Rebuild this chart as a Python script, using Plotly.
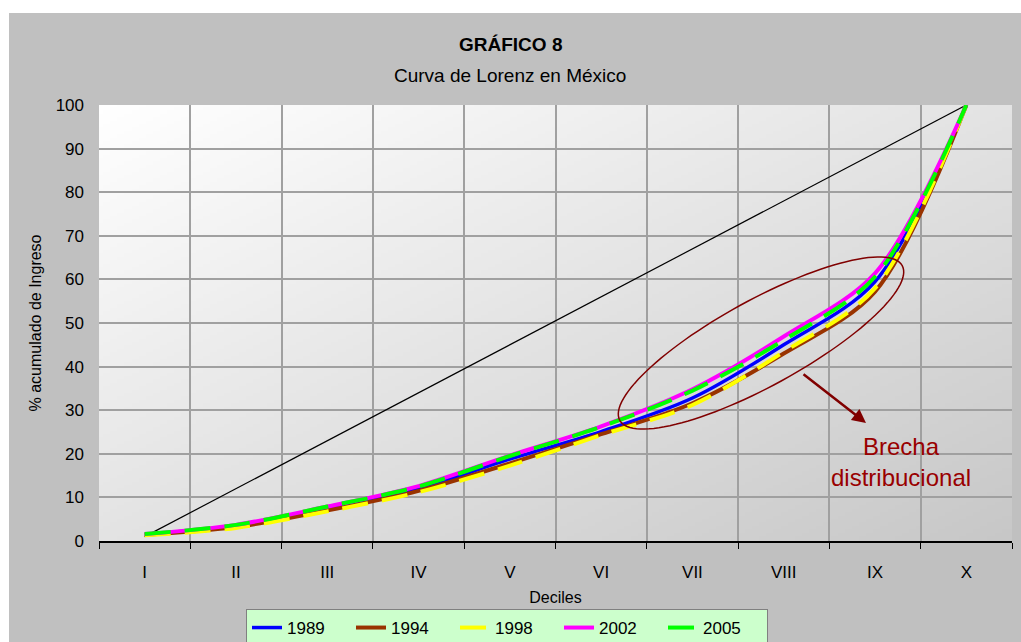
import base64, struct, zlib, math
import plotly.graph_objects as go

# ---------------- data ----------------
deciles = ["I", "II", "III", "IV", "V", "VI", "VII", "VIII", "IX", "X"]
equidad = [1, 12, 23, 34, 45, 56, 67, 78, 89, 100]
y1989 = [1.5, 3.5, 7.5, 12.0, 18.8, 25.1, 32.8, 45.0, 59.5, 100]
y1994 = [1.4, 3.2, 7.0, 11.5, 17.8, 24.5, 31.6, 43.0, 57.2, 100]
y1998 = [1.3, 3.0, 6.8, 11.2, 17.3, 24.3, 31.2, 43.4, 58.0, 100]
y2002 = [1.6, 3.7, 7.9, 12.6, 19.6, 26.3, 34.8, 46.9, 61.4, 100]
y2005 = [1.6, 3.7, 7.9, 12.5, 19.5, 26.2, 34.5, 46.1, 60.6, 100]
years = ["1989", "1994", "1998", "2002", "2005"]

# ---------------- geometry helpers (pixel -> paper) ----------------
W, H = 1021, 642
L, R, T, B = 99, 1012, 105, 541
def px(x):
    return (x - L) / (R - L)
def py(y):
    return (B - y) / (B - T)

# gradient background image for the plot area
def gradient_png(w, h):
    rows = []
    for j in range(h):
        row = bytearray([0])
        for i in range(w):
            t = (i / (w - 1) + j / (h - 1)) / 2
            row.append(int(round(255 - 56 * t)))
        rows.append(bytes(row))
    raw = b"".join(rows)
    def chunk(tag, data):
        c = tag + data
        return struct.pack(">I", len(data)) + c + struct.pack(">I", zlib.crc32(c) & 0xffffffff)
    png = b"\x89PNG\r\n\x1a\n"
    png += chunk(b"IHDR", struct.pack(">IIBBBBB", w, h, 8, 0, 0, 0, 0))
    png += chunk(b"IDAT", zlib.compress(raw, 9))
    png += chunk(b"IEND", b"")
    return "data:image/png;base64," + base64.b64encode(png).decode()

bg = gradient_png(128, 128)

fig = go.Figure()

fig.add_trace(go.Scatter(x=deciles, y=equidad, mode="lines",
                         line=dict(color="black", width=1.2), showlegend=False,
                         hoverinfo="skip"))

styles = {
    "1989": dict(color="#0000ff", width=3.5, dash="solid"),
    "1994": dict(color="#993300", width=4, dash="solid"),
    "1998": dict(color="#ffff00", width=4, dash="26px,14px"),
    "2002": dict(color="#ff00ff", width=4, dash="solid"),
    "2005": dict(color="#00ff00", width=4, dash="26px,14px"),
}
series = {"1989": y1989, "1994": y1994, "1998": y1998, "2002": y2002, "2005": y2005}
for yr in years:
    s = styles[yr]
    fig.add_trace(go.Scatter(x=deciles, y=series[yr], mode="lines", name=yr,
                             line=dict(color=s["color"], width=s["width"], dash=s["dash"],
                                       shape="spline", smoothing=0.9)))

# rotated ellipse (pixel geometry -> paper)
cx, cy, a, b, th = 761, 343, 161, 43, math.radians(28.7)
pts = []
for k in range(0, 121):
    t = 2 * math.pi * k / 120
    X = cx + a * math.cos(t) * math.cos(th) - b * math.sin(t) * math.sin(th)
    Y = cy - (a * math.cos(t) * math.sin(th) + b * math.sin(t) * math.cos(th))
    pts.append((px(X), py(Y)))
path = "M " + " L ".join(f"{x:.5f},{y:.5f}" for x, y in pts) + " Z"

shapes = [
    dict(type="rect", xref="paper", yref="paper", x0=px(0), x1=px(W), y0=py(0), y1=py(13),
         fillcolor="white", line=dict(width=0), layer="above"),
    dict(type="rect", xref="paper", yref="paper", x0=px(0), x1=px(9), y0=py(0), y1=py(H),
         fillcolor="white", line=dict(width=0), layer="above"),
    dict(type="path", xref="paper", yref="paper", path=path,
         line=dict(color="#800000", width=1.5)),
]

annotations = [
    dict(text="<b>GRÁFICO 8</b>", xref="paper", yref="paper", x=px(510), y=py(45),
         showarrow=False, font=dict(size=19, color="black"), xanchor="center", yanchor="middle"),
    dict(text="Curva de Lorenz en México", xref="paper", yref="paper", x=px(510), y=py(75),
         showarrow=False, font=dict(size=19, color="black"), xanchor="center", yanchor="middle"),
    dict(text="Brecha<br>distribucional", xref="paper", yref="paper", x=px(901), y=py(462),
         showarrow=False, font=dict(size=24, color="#990000"), xanchor="center", yanchor="middle"),
    dict(text="", xref="paper", yref="paper", x=px(866), y=py(423), ax=-64, ay=-50,
         showarrow=True, arrowhead=2, arrowsize=1.1, arrowwidth=2.5, arrowcolor="#800000"),
]

fig.update_layout(
    width=W, height=H,
    margin=dict(l=L, r=W - R, t=T, b=H - B, autoexpand=False),
    paper_bgcolor="#c0c0c0",
    plot_bgcolor="rgba(0,0,0,0)",
    font=dict(family="Liberation Sans, Arial, sans-serif", color="black"),
    showlegend=True,
    legend=dict(orientation="h", x=px(507), xanchor="center", y=py(609), yanchor="top",
                bgcolor="#ccffcc", bordercolor="#808080", borderwidth=1,
                font=dict(size=17), entrywidth=59, tracegroupgap=0, valign="middle"),
    images=[dict(source=bg, xref="paper", yref="paper", x=0, y=1, sizex=1, sizey=1,
                 sizing="stretch", layer="below")],
    shapes=shapes,
    annotations=annotations,
)

fig.update_xaxes(type="category", range=[-0.5, 9.5], tickson="boundaries", ticks="outside",
                 ticklen=6, tickcolor="black", tickwidth=1.2, showline=True, linecolor="black",
                 linewidth=1.5, showgrid=True, gridcolor="#a0a0a0", gridwidth=1.5,
                 tickfont=dict(size=17), ticklabelstandoff=15,
                 title=dict(text="Deciles", font=dict(size=16), standoff=11))
fig.update_yaxes(range=[0, 100], dtick=10, showgrid=True, gridcolor="#a0a0a0", gridwidth=1.5,
                 zeroline=False, showline=False, ticks="", tickfont=dict(size=17),
                 ticklabelstandoff=14,
                 title=dict(text="% acumulado de Ingreso", font=dict(size=16), standoff=10))

fig.write_html("out.html", config={"displayModeBar": False},
               post_script="document.body.style.margin='0';document.body.style.padding='0';")
